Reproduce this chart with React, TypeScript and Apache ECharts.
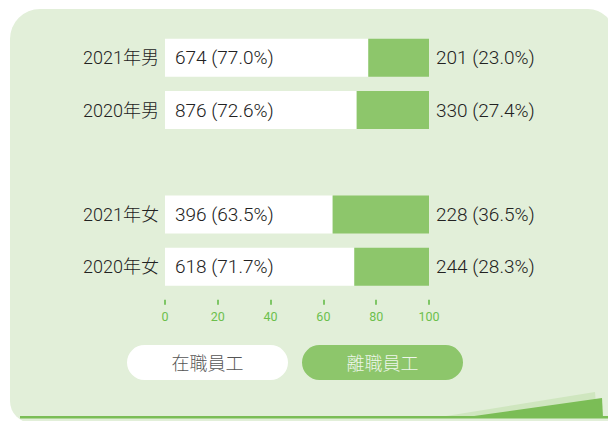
import React, { useEffect, useRef } from "react";
import * as echarts from "echarts";

const categories = ["2021年男", "2020年男", "", "2021年女", "2020年女"];
const stayCounts = [674, 876, null, 396, 618];
const stayPct = [77.0, 72.6, null, 63.5, 71.7];
const leaveCounts = [201, 330, null, 228, 244];
const leavePct = [23.0, 27.4, null, 36.5, 28.3];
const legendNames = ["在職員工", "離職員工"];
const xTicks = [0, 20, 40, 60, 80, 100];

const FONT = "Roboto, 'Noto Sans CJK TC', sans-serif";
const GREEN = "#8dc66b";
const BG = "#e2efd9";
const AXIS_GREEN = "#6cbf4d";
const TEXT = "#222222";

export default function App() {
  const ref = useRef<HTMLDivElement>(null);
  useEffect(() => {
    const chart = echarts.init(ref.current!, null, { renderer: "svg" });
    const fmt = (counts: (number | null)[], pct: (number | null)[]) => (p: any) =>
      counts[p.dataIndex] == null ? "" : `${counts[p.dataIndex]} (${(pct[p.dataIndex] as number).toFixed(1)}%)`;
    chart.setOption({
      animation: false,
      textStyle: { fontFamily: FONT },
      graphic: [
        {
          type: "rect",
          z: -10,
          shape: { x: 10, y: 9, width: 604, height: 414, r: [30, 26, 0, 22] },
          style: { fill: BG },
        },
        {
          type: "polygon",
          z: -9,
          shape: { points: [[440, 417], [595, 392], [597, 417]] },
          style: { fill: "#cfe6bf" },
        },
        {
          type: "polygon",
          z: -8,
          shape: { points: [[467, 417], [602, 398], [603, 417]] },
          style: { fill: "#7bbd56" },
        },
        {
          type: "rect",
          z: -7,
          shape: { x: 20, y: 416, width: 590, height: 2.5 },
          style: { fill: "#7bbd56" },
        },
        {
          type: "rect",
          shape: { x: 127, y: 345, width: 161, height: 35, r: 17.5 },
          style: { fill: "#ffffff" },
        },
        {
          type: "text",
          x: 207.5,
          y: 363,
          style: {
            text: legendNames[0],
            fill: "#555555",
            font: `300 18px ${FONT}`,
            align: "center",
            verticalAlign: "middle",
          },
        },
        {
          type: "rect",
          shape: { x: 302, y: 345, width: 161, height: 35, r: 17.5 },
          style: { fill: GREEN },
        },
        {
          type: "text",
          x: 382.5,
          y: 363,
          style: {
            text: legendNames[1],
            fill: "#eef6ea",
            font: `300 18px ${FONT}`,
            align: "center",
            verticalAlign: "middle",
          },
        },
      ],
      grid: { left: 165, right: 179, top: 31.7, bottom: 128.2 },
      xAxis: {
        type: "value",
        min: 0,
        max: 100,
        interval: 20,
        offset: 7,
        splitLine: { show: false },
        axisLine: { show: false },
        axisTick: { show: true, length: 5, lineStyle: { color: "#5db83f", width: 1.5 } },
        axisLabel: {
          color: AXIS_GREEN,
          fontSize: 12.5,
          margin: 10,
          fontFamily: FONT,
          formatter: (v: number) => (xTicks.includes(v) ? String(v) : ""),
        },
      },
      yAxis: {
        type: "category",
        data: categories,
        inverse: true,
        axisLine: { show: false },
        axisTick: { show: false },
        axisLabel: { color: TEXT, fontSize: 18, fontWeight: 300, margin: 6, fontFamily: FONT },
      },
      series: [
        {
          name: legendNames[0],
          type: "bar",
          stack: "s",
          barWidth: 38,
          data: stayPct.map((v) => (v == null ? "-" : v)),
          itemStyle: { color: "#ffffff" },
          label: {
            show: true,
            position: "insideLeft",
            distance: 10,
            color: TEXT,
            fontSize: 19,
            fontWeight: 300,
            fontFamily: FONT,
            formatter: fmt(stayCounts, stayPct),
          },
        },
        {
          name: legendNames[1],
          type: "bar",
          stack: "s",
          barWidth: 38,
          data: leavePct.map((v) => (v == null ? "-" : v)),
          itemStyle: { color: GREEN },
          label: {
            show: true,
            position: "right",
            distance: 7,
            color: TEXT,
            fontSize: 19,
            fontWeight: 300,
            fontFamily: FONT,
            formatter: fmt(leaveCounts, leavePct),
          },
        },
      ],
    });
    return () => chart.dispose();
  }, []);
  return (
    <div
      ref={ref}
      style={{ position: "absolute", left: 0, top: 0, width: 608, height: 421 }}
    />
  );
}
